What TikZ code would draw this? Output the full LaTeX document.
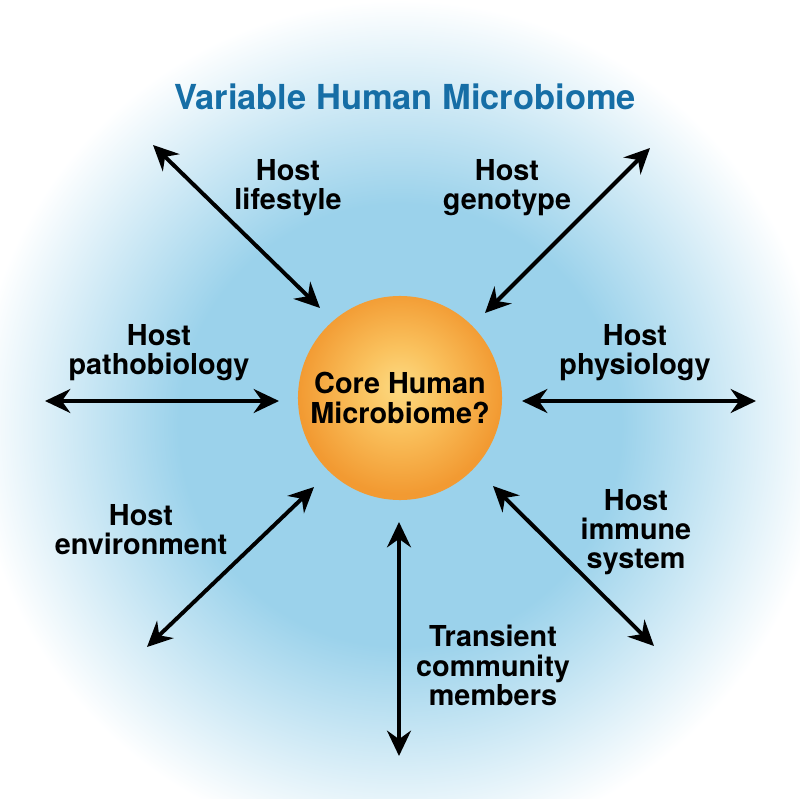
\documentclass[tikz,border=0pt]{standalone}
\usepackage{fontspec}
\setmainfont{TeX Gyre Heros}
\usepackage{tikz}
\usetikzlibrary{arrows.meta, shadings}
\definecolor{titleblue}{RGB}{22,110,166}
\definecolor{glowblue}{RGB}{155,210,235}
\definecolor{coreyellow}{RGB}{252,218,130}
\definecolor{coremid}{RGB}{250,194,94}
\definecolor{coreorange}{RGB}{242,154,50}
\pgfdeclareradialshading{glow}{\pgfpointorigin}{color(0bp)=(glowblue); color(13bp)=(glowblue); color(25bp)=(white); color(50bp)=(white)}
\pgfdeclareradialshading{coreball}{\pgfpoint{0bp}{3bp}}{color(0bp)=(coreyellow); color(10bp)=(coremid); color(25bp)=(coreorange); color(50bp)=(coreorange)}
\tikzstyle{title} = [anchor=north, inner sep=0pt, text=titleblue, font=\fontsize{24.5}{28}\selectfont\bfseries]
\tikzstyle{core} = [circle, minimum size=5.1cm, inner sep=0pt, align=center, shading=coreball, font=\fontsize{20.5}{20.8}\selectfont\bfseries]
\tikzstyle{factor} = [anchor=north, inner sep=0pt, align=center, font=\fontsize{20.5}{20.8}\selectfont\bfseries]
\tikzstyle{arrow} = [{Stealth[length=18pt,width=17pt,inset=6pt]}-{Stealth[length=18pt,width=17pt,inset=6pt]}, line width=2.8pt]

\begin{document}
\begin{tikzpicture}[x=0.025cm, y=-0.025cm]
	\useasboundingbox (0,0) rectangle (800,799);
	\fill [white] (0,0) rectangle (800,799);
	\shade [shading=glow] (400,425) circle (425);
	
	\node (title) [title] at (405,84) {Variable Human Microbiome};
	\node (core) [core] at (400,398) {Core Human\\Microbiome?};
	
	\node (lifestyle) [factor] at (288,159) {Host\\lifestyle};
	\node (genotype) [factor] at (507,159) {Host\\genotype};
	\node (patho) [factor] at (159,324) {Host\\pathobiology};
	\node (physio) [factor] at (635,324) {Host\\physiology};
	\node (enviro) [factor] at (141,504) {Host\\environment};
	\node (immune) [factor] at (636,489) {Host\\immune\\system};
	\node (transient) [factor] at (493,625) {Transient\\community\\members};
	
	% arrow ends
	\coordinate (lifeA) at (153,145);
	\coordinate (lifeB) at (320,308);
	\coordinate (genoA) at (650,148);
	\coordinate (genoB) at (485,313);
	\coordinate (pathoA) at (45,401);
	\coordinate (pathoB) at (279,401);
	\coordinate (physioA) at (522,401);
	\coordinate (physioB) at (756,401);
	\coordinate (enviroA) at (147,647);
	\coordinate (enviroB) at (314,487);
	\coordinate (immuneA) at (493,486);
	\coordinate (immuneB) at (654,646);
	\coordinate (transA) at (399,522);
	\coordinate (transB) at (399,756);
	
	\draw [arrow](lifeA) -- (lifeB);
	\draw [arrow](genoA) -- (genoB);
	\draw [arrow](pathoA) -- (pathoB);
	\draw [arrow](physioA) -- (physioB);
	\draw [arrow](enviroA) -- (enviroB);
	\draw [arrow](immuneA) -- (immuneB);
	\draw [arrow](transA) -- (transB);
\end{tikzpicture}
\end{document}
